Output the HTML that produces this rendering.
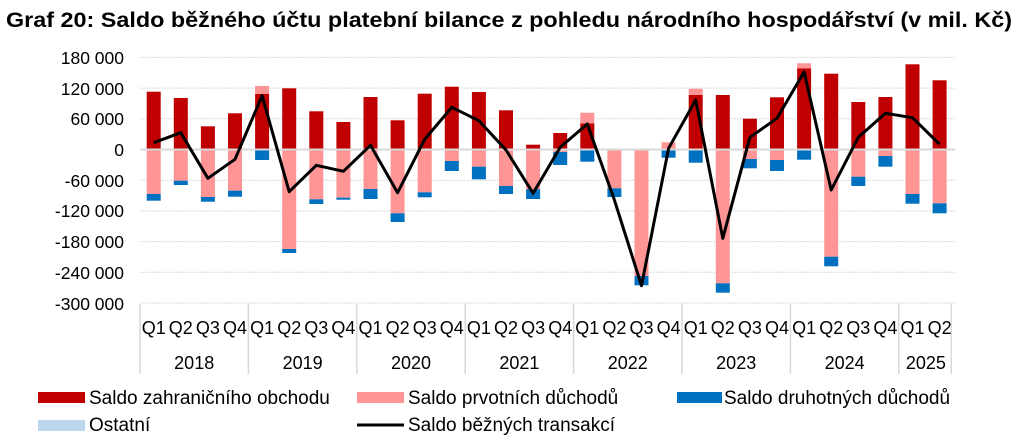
<!DOCTYPE html>
<html><head><meta charset="utf-8"><style>
html,body{margin:0;padding:0;background:#fff;}
svg{display:block;font-family:"Liberation Sans",Arial,sans-serif;}
</style></head><body>
<svg width="1024" height="440" viewBox="0 0 1024 440" xmlns="http://www.w3.org/2000/svg">
<text x="6" y="27" font-size="21" font-weight="bold" fill="#000" textLength="1006" lengthAdjust="spacingAndGlyphs">Graf 20: Saldo běžného účtu platební bilance z pohledu národního hospodářství (v mil. Kč)</text>
<g stroke="#d9d9d9" stroke-width="1" stroke-dasharray="2,1">
<line x1="140" x2="955" y1="57.4" y2="57.4"/><line x1="140" x2="955" y1="88.1" y2="88.1"/><line x1="140" x2="955" y1="118.8" y2="118.8"/>
<line x1="140" x2="955" y1="180.2" y2="180.2"/><line x1="140" x2="955" y1="210.9" y2="210.9"/><line x1="140" x2="955" y1="241.6" y2="241.6"/><line x1="140" x2="955" y1="272.3" y2="272.3"/><line x1="140" x2="955" y1="303" y2="303"/>
</g>
<g font-size="17.5" fill="#000" text-anchor="end">
<text x="124" y="64">180 000</text><text x="124" y="95">120 000</text><text x="124" y="125">60 000</text><text x="124" y="156">0</text>
<text x="124" y="187">-60 000</text><text x="124" y="217">-120 000</text><text x="124" y="248">-180 000</text><text x="124" y="279">-240 000</text><text x="124" y="310">-300 000</text>
</g>
<g id="bars"></g>
<line x1="140" x2="955" y1="149.5" y2="149.5" stroke="#d9d9d9" stroke-width="2"/>
<polyline id="ln" fill="none" stroke="#000" stroke-width="3" stroke-linejoin="round"/>
<g stroke="#d9d9d9" stroke-width="1.5" id="seps"></g>
<g font-size="18" fill="#000" text-anchor="middle" id="labs"></g>
<g font-size="19" fill="#000">
<rect x="38" y="392" width="47" height="11" fill="#c00000"/><text x="89" y="404">Saldo zahraničního obchodu</text>
<rect x="357" y="392" width="47" height="11" fill="#ff9595"/><text x="408" y="404">Saldo prvotních důchodů</text>
<rect x="677" y="392" width="45" height="11" fill="#0070c0"/><text x="724" y="404">Saldo druhotných důchodů</text>
<rect x="38" y="420" width="47" height="11" fill="#bdd7ee"/><text x="89" y="431">Ostatní</text>
<line x1="357" x2="404" y1="425" y2="425" stroke="#000" stroke-width="3"/><text x="408" y="431">Saldo běžných transakcí</text>
</g>
</svg>
<script>
var Z=149.5;
var d=[[91.7,0,194,200.7,142.7],[98,0,180.7,185,132.7],[126.3,0,197,201.7,178.3],[113.3,0,190.7,196.7,159.3],
[94,86,0,160,95.7],[88.3,0,249,253,191.7],[111.3,0,199.3,204,165.3],[122,0,197.7,199.7,171.3],
[97,0,189,199,145.3],[120.3,0,213.3,222,192.7],[93.7,0,192.3,197.3,139.3],[86.7,0,161,171,107.3],
[92,0,166.7,179.3,120.7],[110.3,0,186,194,150],[144.7,0,189.3,199,193.3],[133,0,152,165,147.3],
[123.3,112.7,0,161.7,124],[0,0,188.3,197,200],[0,0,276,285.3,285.7],[148.3,142.3,0,157.7,148.3],
[95,88.7,0,162.7,100],[95,0,283.3,292.7,238.3],[118.7,0,159,168.3,137.3],[97.3,0,160,171,118.3],
[68.3,63.3,0,159.7,72],[73.7,0,256.7,266.3,190],[102,0,176.7,186,137.3],[97,0,156,166.7,113.3],
[64.3,0,194,203.7,117.7],[80.3,0,203.3,213.3,144.3]];
var ns="http://www.w3.org/2000/svg",g=document.getElementById("bars"),pts=[];
function r(x,y1,y2,c){if(y2-y1<=0)return;var e=document.createElementNS(ns,"rect");e.setAttribute("x",x);e.setAttribute("y",y1);e.setAttribute("width",14);e.setAttribute("height",y2-y1);e.setAttribute("fill",c);g.appendChild(e);}
d.forEach(function(b,i){var cx=153.7+i*27.1,x=cx-7;
 if(b[0])r(x,b[0],Z,"#c00000");
 if(b[1])r(x,b[1],b[0],"#ff9595");
 var pb=b[2]||Z; if(b[2])r(x,Z,b[2],"#ff9595");
 r(x,pb,b[3],"#0070c0");
 pts.push(cx+","+b[4]);});
document.getElementById("ln").setAttribute("points",pts.join(" "));
var s=document.getElementById("seps"),L=document.getElementById("labs");
for(var k=0;k<=8;k++){var x=140+k*108.4;if(k==8)x=140+29.9*27.1+1;var e=document.createElementNS(ns,"line");e.setAttribute("x1",x);e.setAttribute("x2",x);e.setAttribute("y1",304);e.setAttribute("y2",374);s.appendChild(e);}
var yrs=["2018","2019","2020","2021","2022","2023","2024","2025"];
for(var i=0;i<30;i++){var t=document.createElementNS(ns,"text");t.setAttribute("x",153.7+i*27.1);t.setAttribute("y",334);t.textContent="Q"+(i%4+1);L.appendChild(t);}
yrs.forEach(function(y,k){var t=document.createElementNS(ns,"text");var cx=k<7?140+k*108.4+54.2:140+7*108.4+27.1;t.setAttribute("x",cx);t.setAttribute("y",369);t.textContent=y;L.appendChild(t);});
</script>
</body></html>
